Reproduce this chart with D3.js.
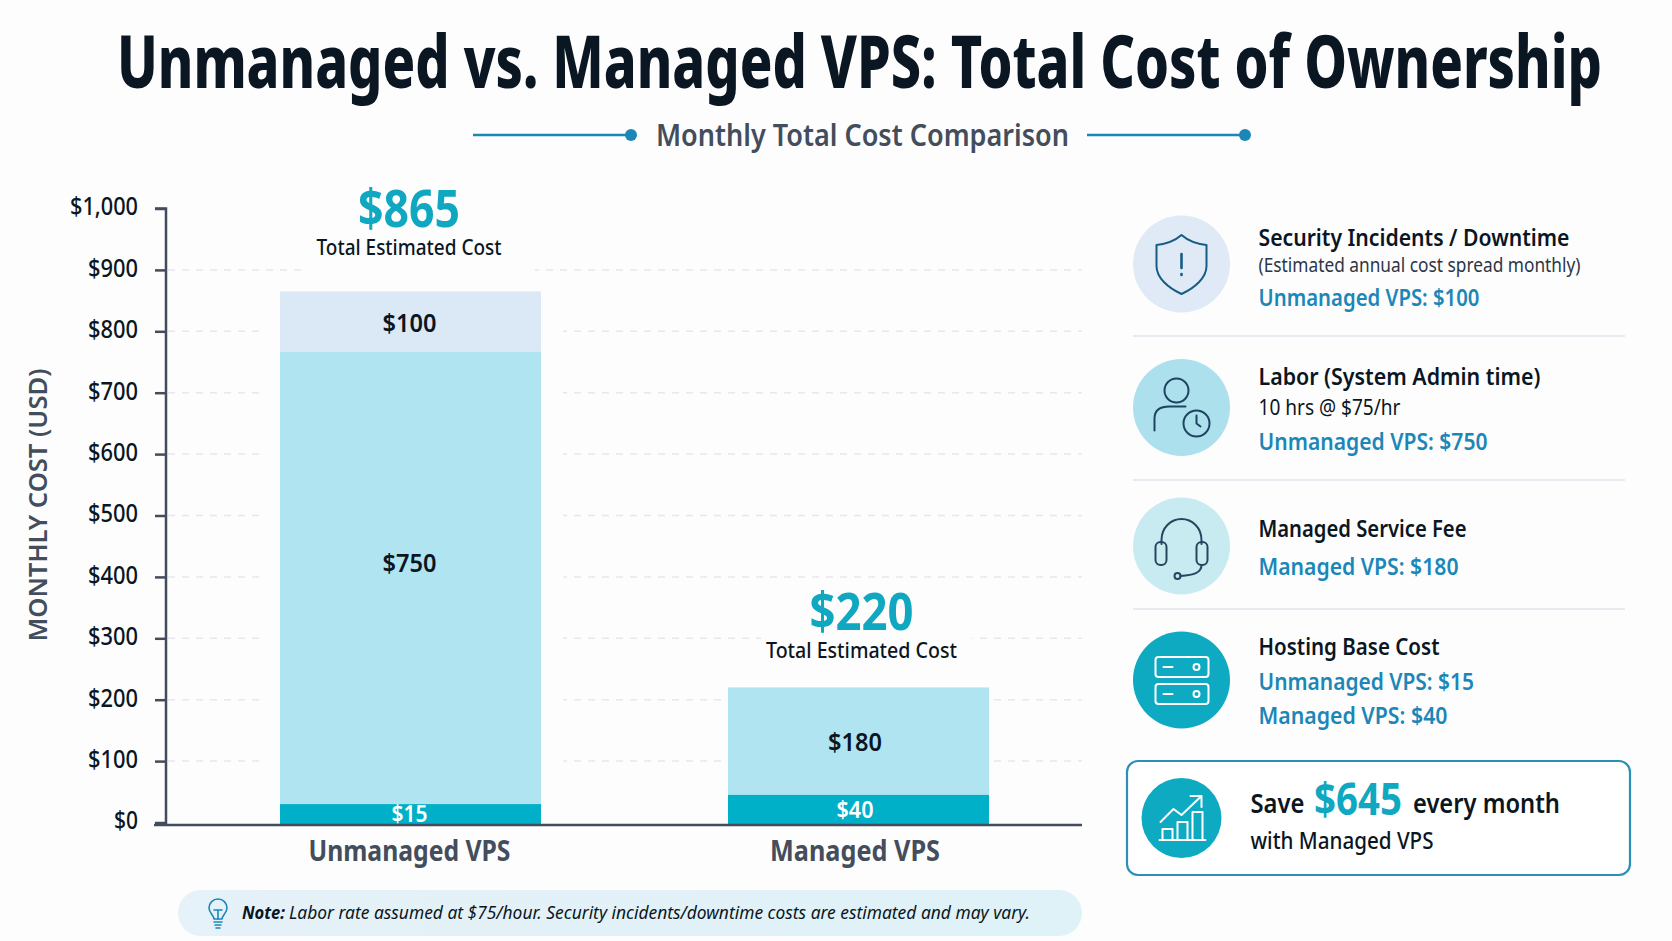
<!DOCTYPE html>
<html>
<head>
<meta charset="utf-8">
<title>Unmanaged vs. Managed VPS</title>
<script src="https://cdn.jsdelivr.net/npm/d3@7"></script>
<style>
  html, body { margin: 0; padding: 0; background: #fdfdfe; }
  svg { display: block; }
  text { font-family: "Noto Sans", sans-serif; }
</style>
</head>
<body>
<div id="chart"></div>
<script>
// values
var categories = ["Unmanaged VPS", "Managed VPS"];
var yTicks = [0, 100, 200, 300, 400, 500, 600, 700, 800, 900, 1000];

// printed amounts
var hostingCost = [15, 40];
var laborCost = [750, 0];
var serviceFee = [0, 180];
var securityCost = [100, 0];
var totalCost = [865, 220];
var monthlySaving = 645;

// where each band actually ends on the axis. The bands in the picture are not
// quite to scale with their printed amounts (the $15 band is ~$30 tall)
var hostingBand = [30, 45];
var middleBand = [737, 175];
var topBand = [98, 0];

var C = {
  ink: "#0a1622", slate: "#434d5c", teal: "#10a8c0", blue: "#1b87b8",
  hosting: "#00b0c8", labor: "#b0e4f0", security: "#dbe8f6", grid: "#e6e8ec", axis: "#434c5c"
};

var W = 1672, H = 941;
var svg = d3.select("#chart").append("svg").attr("width", W).attr("height", H);

var defs = svg.append("defs");
var pillGrad = defs.append("linearGradient").attr("id", "pill");
pillGrad.append("stop").attr("offset", "0%").attr("stop-color", "#e6f1f8");
pillGrad.append("stop").attr("offset", "100%").attr("stop-color", "#def2f7");

// text squeezed to the width it has in the reference
function put(x, y, str, width, size, weight, fill, anchor, italic) {
  var t = svg.append("text").attr("x", x).attr("y", y).text(str)
    .attr("font-size", size).attr("font-weight", weight).attr("fill", fill)
    .attr("text-anchor", anchor || "start");
  if (width) t.attr("textLength", width).attr("lengthAdjust", "spacingAndGlyphs");
  if (italic) t.attr("font-style", "italic");
  return t;
}

// ---- title (scaled with a transform so its box stays on the page)
var title = svg.append("text").text("Unmanaged vs. Managed VPS: Total Cost of Ownership")
  .attr("font-size", 74).attr("font-weight", 800).attr("fill", C.ink);
title.attr("transform", "translate(117,88) scale(" + (1485 / title.node().getComputedTextLength()) + ",1)");

put(656, 146, "Monthly Total Cost Comparison", 413, 31, 600, C.slate);
[[473, 631], [1087, 1245]].forEach(function (d) {
  svg.append("line").attr("x1", d[0]).attr("x2", d[1]).attr("y1", 135).attr("y2", 135)
    .attr("stroke", C.blue).attr("stroke-width", 2.5);
  svg.append("circle").attr("cx", d[1]).attr("cy", 135).attr("r", 6).attr("fill", C.blue);
});

// ---- scales
var y = d3.scaleLinear().domain([0, 1000]).range([822.5, 208.5]);
var x = d3.scaleBand().domain(categories).range([186.5, 1082.5]).paddingInner(0.4174).paddingOuter(0.2087);
var baseY = 825;

// ---- grid, broken up around the first bar and the labels
svg.append("g").selectAll("line").data(yTicks.slice(1, -1)).join("line")
  .attr("x1", 168).attr("x2", 1082)
  .attr("y1", function (d) { return y(d); }).attr("y2", function (d) { return y(d); })
  .attr("stroke", C.grid).attr("stroke-width", 1.5).attr("stroke-dasharray", "7 7");

var gapColor = "#fdfdfe";
svg.append("rect").attr("x", 260).attr("y", 288).attr("width", 303).attr("height", 530).attr("fill", gapColor);
svg.append("rect").attr("x", 307).attr("y", 180).attr("width", 228).attr("height", 112).attr("fill", gapColor);
svg.append("rect").attr("x", 761).attr("y", 600).attr("width", 211).attr("height", 70).attr("fill", gapColor);

// ---- bars
var rows = categories.map(function (c, i) {
  return { cat: c, hosting: hostingBand[i], middle: middleBand[i], top: topBand[i] };
});
var bars = svg.append("g").selectAll("g").data(rows).join("g");
bars.append("rect")
  .attr("x", function (d) { return x(d.cat); }).attr("width", x.bandwidth())
  .attr("y", function (d) { return y(d.hosting + d.middle + d.top); })
  .attr("height", function (d) { return y(0) - y(d.top); })
  .attr("fill", C.security);
bars.append("rect")
  .attr("x", function (d) { return x(d.cat); }).attr("width", x.bandwidth())
  .attr("y", function (d) { return y(d.hosting + d.middle); })
  .attr("height", function (d) { return y(0) - y(d.middle); })
  .attr("fill", C.labor);
bars.append("rect")
  .attr("x", function (d) { return x(d.cat); }).attr("width", x.bandwidth())
  .attr("y", function (d) { return y(d.hosting); })
  .attr("height", function (d) { return baseY - y(d.hosting); })
  .attr("fill", C.hosting);

// ---- axes
var yAxis = d3.axisLeft(y).tickValues(yTicks).tickSize(11).tickPadding(17)
  .tickFormat(function (d) { return "$" + d3.format(",")(d); });
var gy = svg.append("g").attr("transform", "translate(166,0)").call(yAxis);
gy.select("path").attr("d", "M-11,208.5H0V" + baseY);
gy.selectAll("path,line").attr("stroke", C.axis).attr("stroke-width", 2.5);
gy.selectAll("text").attr("font-size", 26).attr("font-weight", 500).attr("fill", C.ink)
  .attr("font-family", '"Noto Sans", sans-serif')
  .attr("y", -2)
  .attr("textLength", function (d) { return d === 1000 ? 68 : d === 0 ? 24 : 50; })
  .attr("lengthAdjust", "spacingAndGlyphs");

var xAxis = d3.axisBottom(x).tickSize(0).tickPadding(15);
var gx = svg.append("g").attr("transform", "translate(0," + baseY + ")").call(xAxis);
gx.select("path").attr("d", "M154,0H1082").attr("stroke", C.axis).attr("stroke-width", 2.5);
gx.selectAll("text").attr("font-size", 29).attr("font-weight", 700).attr("fill", C.slate)
  .attr("font-family", '"Noto Sans", sans-serif')
  .attr("dx", function (d, i) { return i === 0 ? -1 : -3.5; })
  .attr("textLength", function (d, i) { return i === 0 ? 202 : 170; })
  .attr("lengthAdjust", "spacingAndGlyphs");

put(0, 0, "MONTHLY COST (USD)", 273, 26, 600, C.slate, "middle")
  .attr("transform", "translate(47,505) rotate(-90)");

// ---- bar labels
put(409.5, 332, "$" + securityCost[0], 54, 26, 600, C.ink, "middle");
put(409.5, 572, "$" + laborCost[0], 54, 26, 600, C.ink, "middle");
put(855, 751, "$" + serviceFee[1], 54, 26, 600, C.ink, "middle");
put(409.5, 822, "$" + hostingCost[0], 36, 23, 600, "#fff", "middle");
put(855, 818, "$" + hostingCost[1], 37, 23, 600, "#fff", "middle");

put(409, 227, "$" + totalCost[0], 102, 52, 700, C.teal, "middle");
put(409, 255, "Total Estimated Cost", 185, 21, 500, C.ink, "middle");
put(861.5, 630, "$" + totalCost[1], 104, 52, 700, C.teal, "middle");
put(861.5, 658, "Total Estimated Cost", 191, 21, 500, C.ink, "middle");

// ---- note
svg.append("rect").attr("x", 178).attr("y", 890).attr("width", 904).attr("height", 46)
  .attr("rx", 23).attr("fill", "url(#pill)");
put(242, 919, "Note:", 43, 18, 700, C.ink, "start", true);
put(289, 919, "Labor rate assumed at $75/hour. Security incidents/downtime costs are estimated and may vary.", 741, 18, 400, C.ink, "start", true);

function stroked(g, color, w) {
  return g.attr("fill", "none").attr("stroke", color).attr("stroke-width", w)
    .attr("stroke-linecap", "round").attr("stroke-linejoin", "round");
}
var bulb = stroked(svg.append("g").attr("transform", "translate(218,913)"), C.blue, 1.6);
bulb.append("path").attr("d", "M-4,6C-4,2 -9,0 -9,-5A9,9 0 1 1 9,-5C9,0 4,2 4,6Z");
bulb.append("path").attr("d", "M-4,-3H4M0,-3V6M-4,9H4M-3,12H3M-2,15H2");

// ---- right hand panel
var dividerY = [336, 480, 609];
svg.append("g").selectAll("line").data(dividerY).join("line")
  .attr("x1", 1133).attr("x2", 1625)
  .attr("y1", function (d) { return d; }).attr("y2", function (d) { return d; })
  .attr("stroke", "#dfe3e9").attr("stroke-width", 1.5);

var iconX = 1181.5, textX = 1258.5;
function disc(cy, r, fill) {
  svg.append("circle").attr("cx", iconX).attr("cy", cy).attr("r", r).attr("fill", fill);
  return stroked(svg.append("g").attr("transform", "translate(" + iconX + "," + cy + ")"), "#155d85", 2);
}

// security
var shield = disc(264, 48.5, "#dfeaf6");
shield.append("path").attr("d", "M0,-29C8,-22 16,-20 25,-19V2C25,14 13,24 0,30C-13,24 -25,14 -25,2V-19C-16,-20 -8,-22 0,-29Z");
shield.append("path").attr("d", "M0,-10V4M0,10V11").attr("stroke-width", 2.6);
put(textX, 246, "Security Incidents / Downtime", 311, 24, 600, C.ink);
put(textX, 272, "(Estimated annual cost spread monthly)", 322, 20, 400, "#2b3644");
put(textX, 306, "Unmanaged VPS: $" + securityCost[0], 221, 24, 600, C.blue);

// labor
var person = disc(407.5, 48.5, "#ade0ed");
person.attr("stroke", "#1d4460");
person.append("circle").attr("cx", -5).attr("cy", -17).attr("r", 12);
person.append("path").attr("d", "M-27,23V11C-27,2 -20,-1 -12,-1H4");
person.append("circle").attr("cx", 15).attr("cy", 16).attr("r", 13);
person.append("path").attr("d", "M15,8V16L19,19");
put(textX, 385, "Labor (System Admin time)", 282, 24, 600, C.ink);
put(textX, 415, "10 hrs @ $75/hr", 142, 21, 400, C.ink);
put(textX, 450, "Unmanaged VPS: $" + laborCost[0], 229, 24, 600, C.blue);

// service fee
var headset = disc(546, 48.5, "#c8ebf2");
headset.attr("stroke", "#24465f");
headset.append("path").attr("d", "M-20,-2V-6C-20,-18 -11,-27 0,-27C11,-27 20,-18 20,-6V-2");
headset.append("rect").attr("x", -26).attr("y", -4).attr("width", 11).attr("height", 23).attr("rx", 5);
headset.append("rect").attr("x", 15).attr("y", -4).attr("width", 11).attr("height", 23).attr("rx", 5);
headset.append("path").attr("d", "M20,19C20,27 12,29 -1,30");
headset.append("circle").attr("cx", -4).attr("cy", 30).attr("r", 3);
put(textX, 537, "Managed Service Fee", 208, 24, 600, C.ink);
put(textX, 575, "Managed VPS: $" + serviceFee[1], 200, 24, 600, C.blue);

// hosting
var server = disc(680, 48.5, "#0eaac2");
server.attr("stroke", "#fff");
[-13, 14].forEach(function (o) {
  server.append("rect").attr("x", -26).attr("y", o - 10).attr("width", 53).attr("height", 20).attr("rx", 3);
  server.append("path").attr("d", "M-18," + o + "H-9");
  server.append("circle").attr("cx", 15).attr("cy", o).attr("r", 3);
});
put(textX, 655, "Hosting Base Cost", 181, 24, 600, C.ink);
put(textX, 690, "Unmanaged VPS: $" + hostingCost[0], 215.5, 24, 600, C.blue);
put(textX, 724, "Managed VPS: $" + hostingCost[1], 189, 24, 600, C.blue);

// savings box
svg.append("rect").attr("x", 1127).attr("y", 761).attr("width", 503).attr("height", 114)
  .attr("rx", 11).attr("fill", "#fff").attr("stroke", "#2a90b8").attr("stroke-width", 2.2);
var growth = disc(818, 40, "#0eaac2");
growth.attr("stroke", "#fff");
growth.append("path").attr("d", "M-21,4L-8,-9L0,-3L20,-22M9,-22H20V-11");
growth.append("path").attr("d", "M-22,22H24M-19,22V11H-9V22M-4,22V4H6V22M11,22V-6H21V22");
put(1250.5, 813, "Save", 54, 27, 600, C.ink);
put(1314, 815, "$" + monthlySaving, 88, 45, 700, C.teal);
put(1413, 813, "every month", 147, 27, 600, C.ink);
put(1250.5, 849, "with Managed VPS", 183, 24, 500, C.ink);
</script>
</body>
</html>
